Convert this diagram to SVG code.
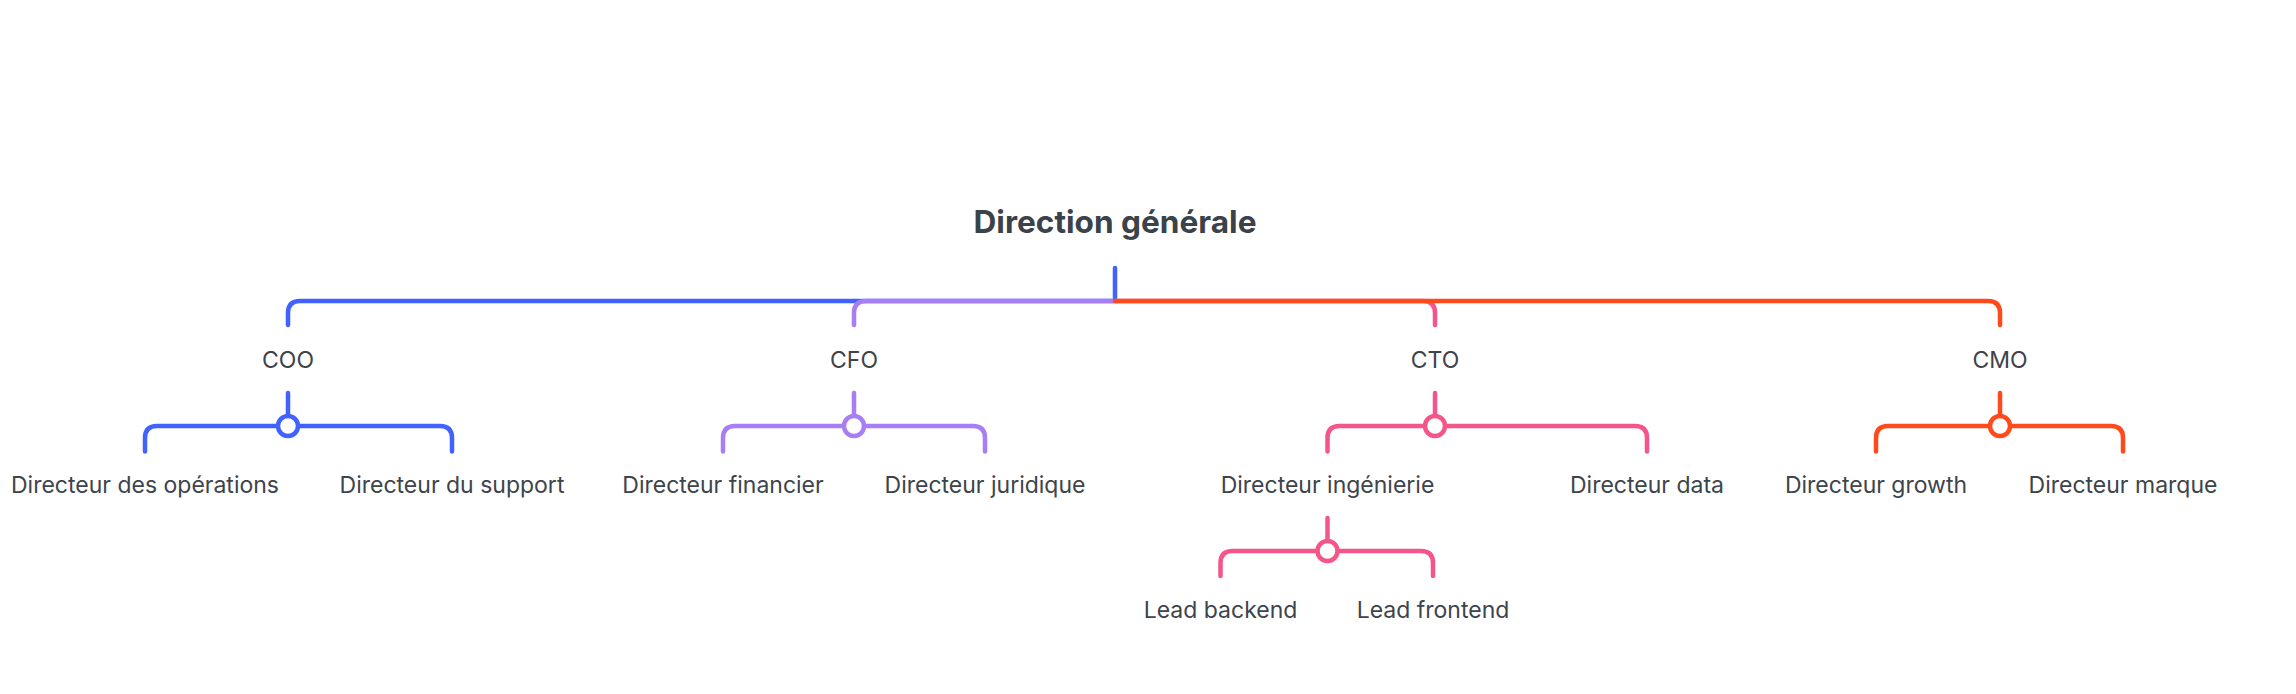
<svg xmlns="http://www.w3.org/2000/svg" width="2296" height="694" viewBox="0 0 2296 694">
<style>
  .bg { fill: #ffffff; }
  .title { font-family: Inter, "Noto Sans", "Liberation Sans", sans-serif; font-size: 31.6px; font-weight: 700; fill: #3b4249; text-anchor: middle; }
  .label { font-family: Inter, "Noto Sans", "Liberation Sans", sans-serif; font-size: 23px; font-weight: 400; fill: #3d444b; text-anchor: middle; }
  .ln { fill: none; stroke-width: 4.5; stroke-linecap: round; stroke-linejoin: round; }
  .dot { fill: #ffffff; stroke-width: 4.5; }
  .blue { stroke: #4262ff; }
  .purple { stroke: #a77ff2; }
  .pink { stroke: #f5568a; }
  .red { stroke: #ff4a1c; }
</style>
<rect class="bg" x="0" y="0" width="2296" height="694"/>
<g id="connectors">
  <path class="ln blue" d="M1115 268 V298"/>
  <path class="ln blue" d="M1115 301 H300 Q288 301 288 313 V325"/>
  <path class="ln purple" d="M1115 301 H866 Q854 301 854 313 V325"/>
  <path class="ln pink" d="M1115 301 H1423 Q1435 301 1435 313 V325"/>
  <path class="ln red" d="M1115 301 H1988 Q2000 301 2000 313 V325"/>

  <path class="ln blue" d="M288 393 V416"/>
  <path class="ln blue" d="M145 451.5 V438 Q145 426 157 426 H440 Q452 426 452 438 V451.5"/>
  <circle class="dot blue" cx="288" cy="426" r="10"/>

  <path class="ln purple" d="M854 393 V416"/>
  <path class="ln purple" d="M723 451.5 V438 Q723 426 735 426 H973 Q985 426 985 438 V451.5"/>
  <circle class="dot purple" cx="854" cy="426" r="10"/>

  <path class="ln pink" d="M1435 393 V416"/>
  <path class="ln pink" d="M1327.5 451.5 V438 Q1327.5 426 1339.5 426 H1635 Q1647 426 1647 438 V451.5"/>
  <circle class="dot pink" cx="1435" cy="426" r="10"/>

  <path class="ln red" d="M2000 393 V416"/>
  <path class="ln red" d="M1876 451.5 V438 Q1876 426 1888 426 H2111 Q2123 426 2123 438 V451.5"/>
  <circle class="dot red" cx="2000" cy="426" r="10"/>

  <path class="ln pink" d="M1327.5 518 V541"/>
  <path class="ln pink" d="M1220.5 576 V563 Q1220.5 551 1232.5 551 H1421 Q1433 551 1433 563 V576"/>
  <circle class="dot pink" cx="1327.5" cy="551" r="10"/>
</g>
<g id="node-root"><text class="title" x="1115" y="233">Direction générale</text></g>
<g id="node-coo"><text class="label" x="288" y="368">COO</text></g>
<g id="node-cfo"><text class="label" x="854" y="368">CFO</text></g>
<g id="node-cto"><text class="label" x="1435" y="368">CTO</text></g>
<g id="node-cmo"><text class="label" x="2000" y="368">CMO</text></g>
<g id="node-dir-operations"><text class="label" x="145" y="493">Directeur des opérations</text></g>
<g id="node-dir-support"><text class="label" x="452" y="493">Directeur du support</text></g>
<g id="node-dir-financier"><text class="label" x="723" y="493">Directeur financier</text></g>
<g id="node-dir-juridique"><text class="label" x="985" y="493">Directeur juridique</text></g>
<g id="node-dir-ingenierie"><text class="label" x="1327.5" y="493">Directeur ingénierie</text></g>
<g id="node-dir-data"><text class="label" x="1647" y="493">Directeur data</text></g>
<g id="node-dir-growth"><text class="label" x="1876" y="493">Directeur growth</text></g>
<g id="node-dir-marque"><text class="label" x="2123" y="493">Directeur marque</text></g>
<g id="node-lead-backend"><text class="label" x="1220.5" y="617.5">Lead backend</text></g>
<g id="node-lead-frontend"><text class="label" x="1433" y="617.5">Lead frontend</text></g>
</svg>
